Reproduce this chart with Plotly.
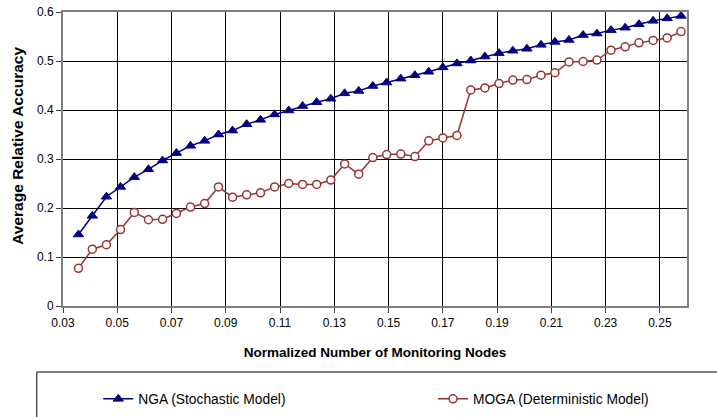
import plotly.graph_objects as go

x_nodes = [0.0357, 0.0408, 0.0460, 0.0512, 0.0563, 0.0615, 0.0667, 0.0718, 0.0770, 0.0822,
           0.0873, 0.0925, 0.0977, 0.1028, 0.1080, 0.1132, 0.1183, 0.1235, 0.1287, 0.1338,
           0.1390, 0.1442, 0.1493, 0.1545, 0.1597, 0.1648, 0.1700, 0.1752, 0.1803, 0.1855,
           0.1907, 0.1958, 0.2010, 0.2062, 0.2113, 0.2165, 0.2217, 0.2268, 0.2320, 0.2372,
           0.2423, 0.2475, 0.2527, 0.2578]

nga = [0.146, 0.184, 0.223, 0.243, 0.263, 0.279, 0.297, 0.312, 0.327, 0.337,
       0.350, 0.358, 0.371, 0.380, 0.391, 0.399, 0.408, 0.416, 0.423, 0.434,
       0.439, 0.449, 0.456, 0.464, 0.471, 0.478, 0.487, 0.495, 0.501, 0.509,
       0.516, 0.521, 0.525, 0.533, 0.539, 0.543, 0.553, 0.556, 0.563, 0.568,
       0.575, 0.582, 0.587, 0.592]

moga = [0.077, 0.116, 0.125, 0.156, 0.191, 0.176, 0.177, 0.189, 0.202, 0.209,
        0.243, 0.222, 0.227, 0.231, 0.243, 0.250, 0.248, 0.248, 0.257, 0.290,
        0.269, 0.303, 0.309, 0.310, 0.305, 0.337, 0.343, 0.348, 0.441, 0.445,
        0.454, 0.461, 0.462, 0.471, 0.476, 0.498, 0.499, 0.502, 0.522, 0.529,
        0.537, 0.542, 0.547, 0.560]

x_ticks = [0.03, 0.05, 0.07, 0.09, 0.11, 0.13, 0.15, 0.17, 0.19, 0.21, 0.23, 0.25]
x_tick_labels = ["0.03", "0.05", "0.07", "0.09", "0.11", "0.13", "0.15", "0.17", "0.19", "0.21", "0.23", "0.25"]
y_ticks = [0, 0.1, 0.2, 0.3, 0.4, 0.5, 0.6]
y_tick_labels = ["0", "0.1", "0.2", "0.3", "0.4", "0.5", "0.6"]

series_names = ["NGA (Stochastic Model)", "MOGA (Deterministic Model)"]
x_title = "Normalized Number of Monitoring Nodes"
y_title = "Average Relative Accuracy"

FONT = "Liberation Sans, Arial, sans-serif"

fig = go.Figure()
fig.add_trace(go.Scatter(
    x=x_nodes, y=nga, name=series_names[0], mode="lines+markers", legend="legend",
    line=dict(color="#000080", width=1.5),
    marker=dict(symbol="triangle-up", size=9, color="#000080",
                line=dict(color="#000080", width=1)),
))
fig.add_trace(go.Scatter(
    x=x_nodes, y=moga, name=series_names[1], mode="lines+markers", legend="legend2",
    line=dict(color="#993333", width=1.5),
    marker=dict(symbol="circle", size=8, color="white",
                line=dict(color="#993333", width=1.5)),
))

leg_common = dict(orientation="h", yanchor="middle", xanchor="left",
                  font=dict(family=FONT, size=13.8, color="black"),
                  bgcolor="rgba(0,0,0,0)", borderwidth=0)

fig.update_layout(
    width=717, height=417,
    margin=dict(l=63, r=30, t=12, b=111, autoexpand=False),
    paper_bgcolor="white", plot_bgcolor="white",
    font=dict(family=FONT, size=12, color="black"),
    showlegend=True,
    legend=dict(x=0.0565, y=-0.316, **leg_common),
    legend2=dict(x=0.593, y=-0.316, **leg_common),
    shapes=[dict(type="rect", xref="paper", yref="paper",
                 x0=-0.042, x1=1.07, y0=-0.2245, y1=-0.45,
                 line=dict(color="black", width=1), fillcolor="rgba(0,0,0,0)",
                 layer="below")],
    annotations=[dict(text="<b>" + y_title + "</b>", xref="paper", yref="paper",
                      x=0, y=0.545, xanchor="center", yanchor="middle",
                      xshift=-45, textangle=-90, showarrow=False,
                      font=dict(family=FONT, size=15.5, color="black"))],
)

fig.update_xaxes(
    range=[0.03, 0.26], tickvals=x_ticks, ticktext=x_tick_labels,
    showgrid=True, gridcolor="black", gridwidth=1,
    showline=True, linecolor="#808080", linewidth=2, mirror=True,
    ticks="outside", ticklen=5, tickcolor="#404040",
    zeroline=False, automargin=False, ticklabeloverflow="allow",
    tickfont=dict(family=FONT, size=12, color="black"),
    title=dict(text="<b>" + x_title + "</b>",
               font=dict(family=FONT, size=13.5, color="black"), standoff=18),
)
fig.update_yaxes(
    range=[0, 0.6], tickvals=y_ticks, ticktext=y_tick_labels,
    showgrid=True, gridcolor="black", gridwidth=1,
    showline=True, linecolor="#808080", linewidth=2, mirror=True,
    ticks="outside", ticklen=5, tickcolor="#404040",
    zeroline=False, automargin=False, ticklabeloverflow="allow",
    tickfont=dict(family=FONT, size=12, color="black"),
)

# remove the page's default 8px body margin so the figure fills the window
fig.write_html("out.html", config={"displayModeBar": False},
               post_script="document.body.style.margin='0px';")
